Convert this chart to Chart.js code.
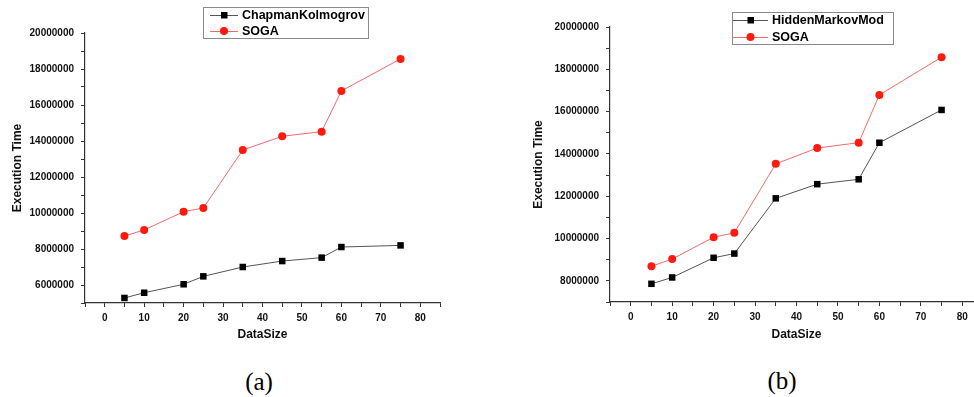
<!DOCTYPE html>
<html>
<head>
<meta charset="utf-8">
<script src="https://cdn.jsdelivr.net/npm/chart.js@4.4.1/dist/chart.umd.min.js"></script>
<style>
  html, body { margin: 0; padding: 0; background: #fff; }
  body { width: 974px; height: 397px; overflow: hidden; position: relative; }
  canvas { position: absolute; top: 0; }
  #chartA { left: 0; }
  #chartB { left: 490px; }
  .cap { position: absolute; font-family: "Liberation Serif", serif; font-size: 25px; color: #000; transform: translate(-50%, -50%); }
</style>
</head>
<body>
<canvas id="chartA" width="480" height="360"></canvas>
<canvas id="chartB" width="520" height="360"></canvas>
<div class="cap" style="left:259px; top:382px;">(a)</div>
<div class="cap" style="left:782px; top:381px;">(b)</div>
<script>
// data sizes on the x axis
const dataSizes = [5, 10, 20, 25, 35, 45, 55, 60, 75]

// execution times
const chapmanKolmogrov = [5280000, 5570000, 6040000, 6480000, 7000000, 7330000, 7520000, 8110000, 8200000]
const hiddenMarkov = [7860000, 8160000, 9090000, 9290000, 11900000, 12570000, 12800000, 14530000, 16080000]
const sogaA = [8720000, 9060000, 10070000, 10280000, 13500000, 14260000, 14520000, 16780000, 18560000]
const sogaB = [8690000, 9030000, 10060000, 10270000, 13530000, 14280000, 14530000, 16790000, 18570000]

const xLabels = [0, 10, 20, 30, 40, 50, 60, 70, 80]

const axisColor = '#333'
const tickFont = { family: 'Liberation Sans', size: 10, weight: 'bold' }
const titleFont = { family: 'Liberation Sans', size: 12, weight: 'bold' }

function pts(ys){
  return dataSizes.map((x, i) => ({ x: x, y: ys[i] }))
}

// boxed legend drawn inside the plot, like the original figure
const boxLegend = {
  id: 'boxLegend',
  afterDraw(chart, args, o){
    const ctx = chart.ctx
    ctx.save()
    ctx.strokeStyle = '#8a8a8a'
    ctx.lineWidth = 1
    ctx.strokeRect(o.x + 0.5, o.y + 0.5, o.w, o.h)
    ctx.font = 'bold 12.5px "Liberation Sans"'
    ctx.textBaseline = 'middle'
    chart.data.datasets.forEach((ds, i) => {
      const y = o.y + o.row0 + i * o.rowH
      ctx.strokeStyle = ds.borderColor
      ctx.lineWidth = 1
      ctx.beginPath()
      ctx.moveTo(o.x + o.s0, y + 0.5)
      ctx.lineTo(o.x + o.s1, y + 0.5)
      ctx.stroke()
      const cx = o.x + (o.s0 + o.s1) / 2
      ctx.fillStyle = ds.pointBackgroundColor
      ctx.beginPath()
      if(ds.pointStyle === 'rect'){
        ctx.rect(cx - 3, y - 3, 6.5, 6.5)
      }else{
        ctx.arc(cx, y, 4, 0, Math.PI * 2)
      }
      ctx.fill()
      ctx.fillStyle = '#000'
      ctx.fillText(ds.label, o.x + o.tx, y + 0.5)
    })
    ctx.restore()
  }
}

function makeChart(id, blackLabel, blackData, redData, yMin, pad, yWidth, xHeight, legend){
  return new Chart(document.getElementById(id), {
    type: 'line',
    data: {
      datasets: [
        {
          label: blackLabel,
          data: pts(blackData),
          borderColor: '#555',
          borderWidth: 1,
          pointStyle: 'rect',
          pointRadius: 4.6,
          pointBackgroundColor: '#000',
          pointBorderWidth: 0,
          tension: 0
        },
        {
          label: 'SOGA',
          data: pts(redData),
          borderColor: 'rgba(240,80,80,0.85)',
          borderWidth: 1,
          pointStyle: 'circle',
          pointRadius: 4,
          pointBackgroundColor: '#ff1a10',
          pointBorderWidth: 0,
          tension: 0
        }
      ]
    },
    options: {
      responsive: false,
      animation: false,
      devicePixelRatio: 1,
      layout: { padding: pad },
      plugins: {
        legend: { display: false },
        tooltip: { enabled: false },
        boxLegend: legend
      },
      scales: {
        x: {
          type: 'linear',
          min: -5,
          max: 85,
          afterFit: (s) => { s.height = xHeight },
          border: { color: axisColor, width: 1.2 },
          grid: { drawOnChartArea: false, tickLength: 4, color: axisColor },
          ticks: {
            stepSize: 5,
            autoSkip: false,
            maxRotation: 0,
            padding: 5,
            color: '#111',
            font: tickFont,
            callback: (v) => xLabels.includes(v) ? String(v) : ''
          },
          title: { display: true, text: 'DataSize', color: '#111', font: titleFont, padding: { top: 0, bottom: 18 } }
        },
        y: {
          type: 'linear',
          min: yMin,
          max: 20000000,
          afterFit: (s) => { s.width = yWidth },
          border: { color: axisColor, width: 1.2 },
          grid: { drawOnChartArea: false, tickLength: 4, color: axisColor },
          ticks: {
            stepSize: 1000000,
            autoSkip: false,
            padding: 7,
            color: '#111',
            font: tickFont,
            callback: (v) => v % 2000000 === 0 ? String(v) : ''
          },
          title: { display: true, text: 'Execution Time', color: '#111', font: titleFont, padding: { top: 4, bottom: 0 } }
        }
      }
    },
    plugins: [boxLegend]
  })
}

makeChart('chartA', 'ChapmanKolmogrov', chapmanKolmogrov, sogaA, 5000000,
  { left: 6, right: 40, top: 33, bottom: 0 }, 79, 57,
  { x: 203, y: 7, w: 165, h: 31, row0: 8, rowH: 16, s0: 7, s1: 35, tx: 39 })

makeChart('chartB', 'HiddenMarkovMod', hiddenMarkov, sogaB, 7000000,
  { left: 37, right: 27, top: 27, bottom: 0 }, 83, 58,
  { x: 242, y: 12, w: 161, h: 32, row0: 8, rowH: 17, s0: 1, s1: 36, tx: 40 })
</script>
</body>
</html>
